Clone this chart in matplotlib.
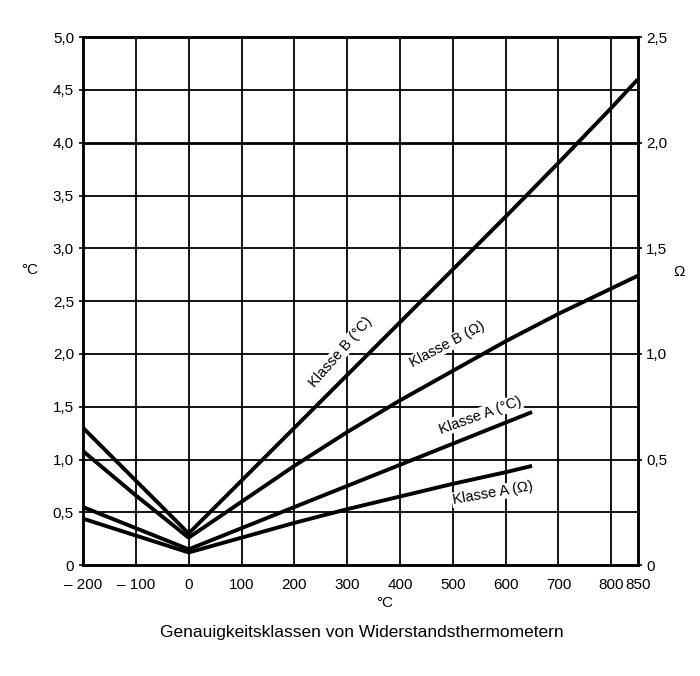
import matplotlib
matplotlib.use("Agg")
import matplotlib.pyplot as plt

# temperatures (°C) and tolerance values
temp_b = [-200, -100, 0, 100, 200, 300, 400, 500, 600, 700, 800, 850]
klasse_b_c = [1.3, 0.8, 0.3, 0.8, 1.3, 1.8, 2.3, 2.8, 3.3, 3.81, 4.33, 4.6]
klasse_b_ohm = [0.54, 0.33, 0.13, 0.30, 0.47, 0.63, 0.78, 0.92, 1.06, 1.19, 1.31, 1.37]

temp_a = [-200, -100, 0, 100, 200, 300, 400, 500, 600, 650]
klasse_a_c = [0.55, 0.35, 0.15, 0.35, 0.55, 0.75, 0.95, 1.15, 1.35, 1.45]
klasse_a_ohm = [0.22, 0.14, 0.06, 0.13, 0.20, 0.265, 0.325, 0.385, 0.44, 0.47]

x_ticks = [-200, -100, 0, 100, 200, 300, 400, 500, 600, 700, 800, 850]
x_labels = ["\u2013 200", "\u2013 100", "0", "100", "200", "300", "400", "500",
            "600", "700", "800", "850"]
y_left = [0, 0.5, 1.0, 1.5, 2.0, 2.5, 3.0, 3.5, 4.0, 4.5, 5.0]
y_left_labels = ["0", "0,5", "1,0", "1,5", "2,0", "2,5", "3,0", "3,5", "4,0", "4,5", "5,0"]
y_right = [0, 0.5, 1.0, 1.5, 2.0, 2.5]
y_right_labels = ["0", "0,5", "1,0", "1,5", "2,0", "2,5"]

plt.rcParams["font.family"] = ["Liberation Sans", "DejaVu Sans"]

fig = plt.figure(figsize=(7.0, 6.76), dpi=100)
ax = fig.add_axes([0.1186, 0.164, 0.7924, 0.781])
ax2 = ax.twinx()

# grid
for x in x_ticks[1:-1]:
    ax.axvline(x, color="black", lw=1.3, zorder=1)
for y in y_left[1:-1]:
    ax.axhline(y, color="black", lw=2.0 if y == 4.0 else 1.3, zorder=1)

lw = 2.8
ax.plot(temp_b, klasse_b_c, color="black", lw=lw, zorder=3, solid_capstyle="butt")
ax.plot(temp_a, klasse_a_c, color="black", lw=lw, zorder=3, solid_capstyle="butt")
ax2.plot(temp_b, klasse_b_ohm, color="black", lw=lw, zorder=3, solid_capstyle="butt")
ax2.plot(temp_a, klasse_a_ohm, color="black", lw=lw, zorder=3, solid_capstyle="butt")

ax.set_xlim(-200, 850)
ax.set_ylim(0, 5)
ax2.set_ylim(0, 2.5)

ax.set_xticks(x_ticks)
ax.set_xticklabels(x_labels)
ax.set_yticks(y_left)
ax.set_yticklabels(y_left_labels)
ax2.set_yticks(y_right)
ax2.set_yticklabels(y_right_labels)

ax.tick_params(axis="both", labelsize=11, length=3, width=1.2, colors="black")
ax.tick_params(axis="x", length=0, pad=9)
ax2.tick_params(axis="y", labelsize=11, length=3, width=1.2, pad=3)
for a in (ax, ax2):
    for s in a.spines.values():
        s.set_linewidth(1.8)

# curve labels, with the grid blanked out behind them
lab = dict(fontsize=10.5, color="black", ha="center", va="center", zorder=5,
           bbox=dict(facecolor="white", edgecolor="none", pad=0.5))
ax.text(288, 2.02, "Klasse B (\u00b0C)", rotation=49, **lab)
ax.text(489, 2.09, "Klasse B (\u03a9)", rotation=28, **lab)
ax.text(552, 1.42, "Klasse A (\u00b0C)", rotation=20, **lab)
ax.text(575, 0.68, "Klasse A (\u03a9)", rotation=10, **lab)
ax2.set_zorder(ax.get_zorder() + 1)
ax2.patch.set_visible(False)

# axis units
fig.text(30 / 700, 1 - 270 / 676, "\u00b0C", fontsize=11, ha="center", va="center")
fig.text(679 / 700, 1 - 272 / 676, "\u03a9", fontsize=11, ha="center", va="center")
fig.text(385 / 700, 1 - 603 / 676, "\u00b0C", fontsize=11, ha="center", va="center")
fig.text(362 / 700, 1 - 633 / 676, "Genauigkeitsklassen von Widerstandsthermometern",
         fontsize=12.5, ha="center", va="center")

fig.savefig("out.png", dpi=100, facecolor="white")
